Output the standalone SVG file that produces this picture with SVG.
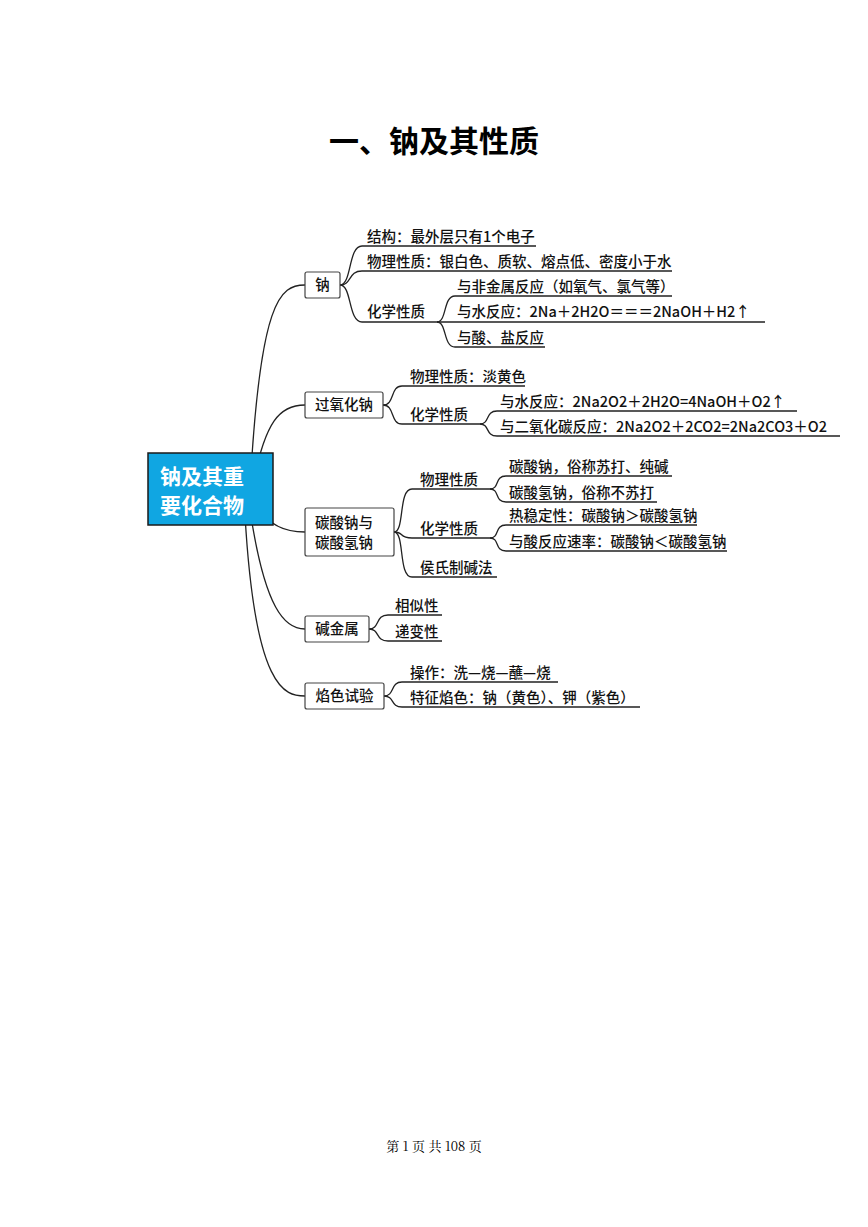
<svg xmlns="http://www.w3.org/2000/svg" width="868" height="1227" viewBox="0 0 868 1227">
<style>
.t{font-family:"Noto Sans CJK SC","Liberation Sans",sans-serif;font-size:14.5px;fill:#111;font-weight:500}
.l{fill:none;stroke:#222;stroke-width:1.3}
.b{fill:#fff;stroke:#444;stroke-width:1.2}
</style>
<rect width="868" height="1227" fill="#fff"/>
<text x="434" y="152" text-anchor="middle" style="font-family:'Noto Sans CJK SC',sans-serif;font-size:30px;font-weight:bold">一、钠及其性质</text>
<g id="connectors">
<path class="l" d="M250 489 C260 300 280 285 305 285"/>
<path class="l" d="M252 489 C265 420 280 405 305 405"/>
<path class="l" d="M255 500 C265 525 285 532 305 532"/>
<path class="l" d="M250 510 C265 610 285 629 305 629"/>
<path class="l" d="M245 515 C255 690 285 696 305 696"/>
<path class="l" d="M340 285 C352 285 348 246 362 246 L536 246"/>
<path class="l" d="M340 285 C352 285 348 271 362 271 L672 271"/>
<path class="l" d="M340 285 C352 285 348 322 362 322 L765 322"/>
<path class="l" d="M437 322 C447 322 443 296 455 296 L672 296"/>
<path class="l" d="M437 322 C447 322 443 347 455 347 L545 347"/>
<path class="l" d="M383 405 C395 405 390 386 402 386 L525 386"/>
<path class="l" d="M383 405 C395 405 390 424 402 424 L480 424"/>
<path class="l" d="M480 424 C490 424 485 411 497 411 L797 411"/>
<path class="l" d="M480 424 C490 424 485 436 497 436 L840 436"/>
<path class="l" d="M394 532 C405 532 398 489 412 489 L490 489"/>
<path class="l" d="M394 532 C405 532 398 538 412 538 L490 538"/>
<path class="l" d="M394 532 C405 532 398 577 412 577 L497 577"/>
<path class="l" d="M490 489 C500 489 494 476 506 476 L672 476"/>
<path class="l" d="M490 489 C500 489 494 502 506 502 L657 502"/>
<path class="l" d="M490 538 C500 538 494 525 506 525 L697 525"/>
<path class="l" d="M490 538 C500 538 494 551 506 551 L727 551"/>
<path class="l" d="M369 629 C380 629 375 615 388 615 L442 615"/>
<path class="l" d="M369 629 C380 629 375 641 388 641 L442 641"/>
<path class="l" d="M384 696 C395 696 390 682 402 682 L558 682"/>
<path class="l" d="M384 696 C395 696 390 707 402 707 L640 707"/>
</g>
<g id="root"><rect x="148" y="453" width="125" height="72" fill="#10a6e2" stroke="#1a1a1a" stroke-width="1.5"/>
<text x="160" y="484" style="font-family:'Noto Sans CJK SC',sans-serif;font-size:21px;font-weight:bold;fill:#fff">钠及其重</text>
<text x="160" y="513" style="font-family:'Noto Sans CJK SC',sans-serif;font-size:21px;font-weight:bold;fill:#fff">要化合物</text></g>
<g id="na"><rect class="b" x="305" y="272" width="35" height="26" rx="2"/><text class="t" x="322.5" y="290" text-anchor="middle">钠</text></g>
<g id="na2o2"><rect class="b" x="305" y="392" width="78" height="26" rx="2"/><text class="t" x="344" y="410" text-anchor="middle">过氧化钠</text></g>
<g id="carb"><rect class="b" x="305" y="508" width="89" height="48" rx="2"/><text class="t" x="315" y="528">碳酸钠与</text><text class="t" x="315" y="548">碳酸氢钠</text></g>
<g id="alk"><rect class="b" x="305" y="616" width="64" height="26" rx="2"/><text class="t" x="337" y="634" text-anchor="middle">碱金属</text></g>
<g id="flame"><rect class="b" x="305" y="683" width="79" height="26" rx="2"/><text class="t" x="344.5" y="701" text-anchor="middle">焰色试验</text></g>
<g id="labels">
<text class="t" x="367" y="242">结构：最外层只有1个电子</text>
<text class="t" x="367" y="267">物理性质：银白色、质软、熔点低、密度小于水</text>
<text class="t" x="367" y="317">化学性质</text>
<text class="t" x="457" y="292">与非金属反应（如氧气、氯气等）</text>
<text class="t" x="457" y="317">与水反应：2Na＋2H2O＝＝＝2NaOH＋H2↑</text>
<text class="t" x="457" y="343">与酸、盐反应</text>
<text class="t" x="410" y="382">物理性质：淡黄色</text>
<text class="t" x="410" y="420">化学性质</text>
<text class="t" x="500" y="407">与水反应：2Na2O2＋2H2O=4NaOH＋O2↑</text>
<text class="t" x="500" y="432">与二氧化碳反应：2Na2O2＋2CO2=2Na2CO3＋O2</text>
<text class="t" x="420" y="485">物理性质</text>
<text class="t" x="509" y="472">碳酸钠，俗称苏打、纯碱</text>
<text class="t" x="509" y="498">碳酸氢钠，俗称不苏打</text>
<text class="t" x="420" y="534">化学性质</text>
<text class="t" x="509" y="521">热稳定性：碳酸钠＞碳酸氢钠</text>
<text class="t" x="509" y="547">与酸反应速率：碳酸钠＜碳酸氢钠</text>
<text class="t" x="420" y="573">侯氏制碱法</text>
<text class="t" x="395" y="611">相似性</text>
<text class="t" x="395" y="637">递变性</text>
<text class="t" x="410" y="678">操作：洗—烧—蘸—烧</text>
<text class="t" x="410" y="703">特征焰色：钠（黄色）、钾（紫色）</text>
</g>
<text x="434" y="1151" text-anchor="middle" style="font-family:'Noto Serif CJK SC','Noto Sans CJK SC',serif;font-size:13px">第 1 页 共 108 页</text>
</svg>
